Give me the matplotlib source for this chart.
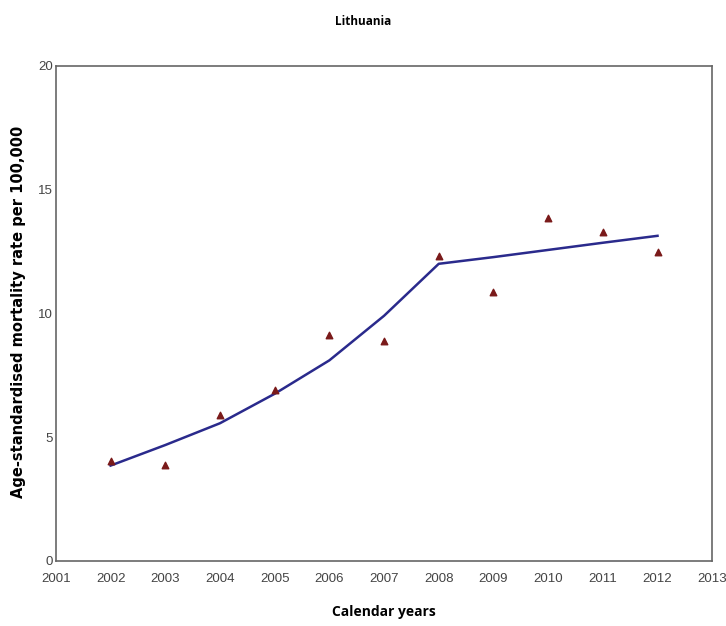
import matplotlib
matplotlib.use("Agg")
import matplotlib.pyplot as plt

# observed rates (triangles) and fitted trend (line)
years = [2002, 2003, 2004, 2005, 2006, 2007, 2008, 2009, 2010, 2011, 2012]
observed = [4.05, 3.86, 5.91, 6.92, 9.12, 8.9, 12.3, 10.86, 13.83, 13.29, 12.46]
fitted = [3.85, 4.68, 5.56, 6.75, 8.1, 9.9, 12.0, 12.27, 12.56, 12.85, 13.13]

xticks = list(range(2001, 2014))
yticks = [0, 5, 10, 15, 20]

fig = plt.figure(figsize=(7.26, 6.26), dpi=100)
ax = fig.add_axes([0.077, 0.104, 0.904, 0.791])

ax.plot(years, fitted, color="#2a2a8c", lw=1.8, zorder=2)
ax.scatter(years, observed, marker="^", s=22, color="#7a1a1a", zorder=3)

ax.set_xlim(2001, 2013)
ax.set_ylim(0, 20)
ax.set_xticks(xticks)
ax.set_yticks(yticks)
tick_font = ["Liberation Sans", "DejaVu Sans"]
ax.set_xticklabels([str(t) for t in xticks], family=tick_font, fontsize=9.5, color="#444444")
ax.set_yticklabels([str(t) for t in yticks], family=tick_font, fontsize=9.5, color="#444444")
ax.tick_params(axis="x", length=0, pad=9)
ax.tick_params(axis="y", length=0, pad=2)
for sp in ax.spines.values():
    sp.set_color("#666666")
    sp.set_linewidth(1.2)

# y label placed by hand so it sits inside the figure like the reference
fig.text(0.026, 0.502, "Age-standardised mortality rate per 100,000",
         rotation=90, ha="center", va="center", fontsize=10.5,
         fontweight="bold", family=["DejaVu Sans"])
ax.set_xlabel("Calendar years", fontsize=10, fontweight="bold", labelpad=14,
              family=["Open Sans", "DejaVu Sans"])
fig.text(0.5, 0.965, "Lithuania", ha="center", va="center", fontsize=8.5,
         fontweight="bold", family=["Open Sans", "DejaVu Sans"])

fig.savefig("out.png", dpi=100)
